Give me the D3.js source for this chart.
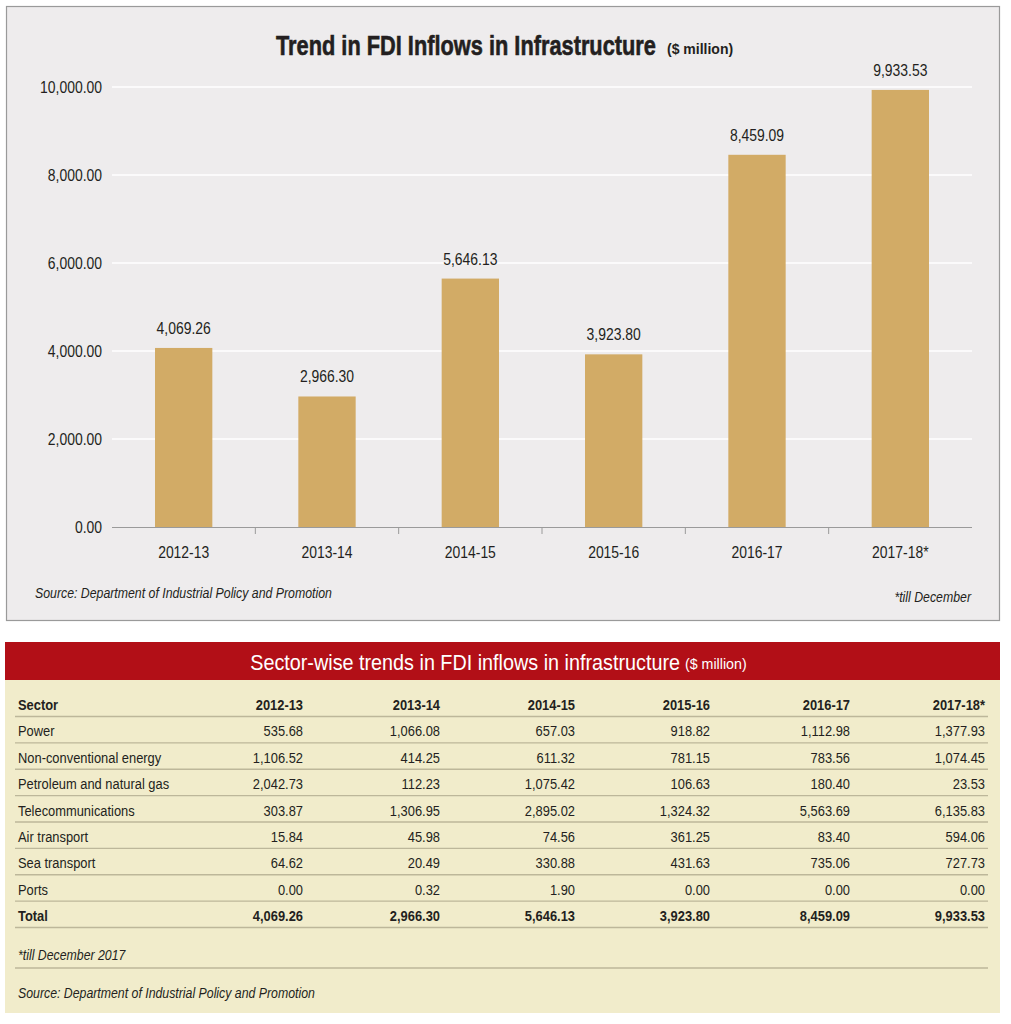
<!DOCTYPE html>
<html>
<head>
<meta charset="utf-8">
<script src="https://cdn.jsdelivr.net/npm/d3@7"></script>
<style>
  body { margin: 0; background: #fff; }
  text { font-family: "Liberation Sans", Arial, sans-serif; }
</style>
</head>
<body>
<svg width="1011" height="1024"></svg>
<script>
// chart data
var years = ["2012-13", "2013-14", "2014-15", "2015-16", "2016-17", "2017-18*"];
var totals = [4069.26, 2966.30, 5646.13, 3923.80, 8459.09, 9933.53];
var yTicks = [0, 2000, 4000, 6000, 8000, 10000];

// table data
var sectors = ["Power", "Non-conventional energy", "Petroleum and natural gas",
  "Telecommunications", "Air transport", "Sea transport", "Ports"];
var power = [535.68, 1066.08, 657.03, 918.82, 1112.98, 1377.93];
var nonConv = [1106.52, 414.25, 611.32, 781.15, 783.56, 1074.45];
var petroleum = [2042.73, 112.23, 1075.42, 106.63, 180.40, 23.53];
var telecom = [303.87, 1306.95, 2895.02, 1324.32, 5563.69, 6135.83];
var air = [15.84, 45.98, 74.56, 361.25, 83.40, 594.06];
var sea = [64.62, 20.49, 330.88, 431.63, 735.06, 727.73];
var ports = [0.00, 0.32, 1.90, 0.00, 0.00, 0.00];
var tableYears = ["2012-13", "2013-14", "2014-15", "2015-16", "2016-17", "2017-18*"];

var svg = d3.select("svg");
var fmt = d3.format(",.2f");
var ink = "#231f20";

// no narrow font installed, so squeeze text horizontally
function squeeze(sel, fx, fy, sx) {
  return sel.attr("transform", function(d, i){
    return "translate(" + fx(d, i) + "," + fy(d, i) + ") scale(" + sx + ",1)";
  });
}
function k(v){ return function(){ return v; }; }

// ---- top panel ----
svg.append("rect")
  .attr("x", 6.5).attr("y", 6.5).attr("width", 993).attr("height", 614)
  .style("fill", "#eeeced").style("stroke", "#9a9a9a").style("stroke-width", 1.2);

var title = svg.append("text")
  .style("font-size", "28px").style("font-weight", "bold").style("fill", ink)
  .style("stroke", ink).style("stroke-width", 0.6)
  .text("Trend in FDI Inflows in Infrastructure");
var tLen = title.node().getComputedTextLength();
title.call(squeeze, k(276), k(55), 380 / tLen);
svg.append("text")
  .attr("x", 667).attr("y", 54)
  .style("font-size", "14px").style("font-weight", "bold").style("fill", ink)
  .text("($ million)");

var x = d3.scaleBand().domain(years).range([112, 972]).padding(0);
var y = d3.scaleLinear().domain([0, 10000]).range([527, 87]);

// grid lines
svg.selectAll(".grid")
  .data(yTicks.filter(function(d){ return d > 0; }))
  .enter().append("line")
  .attr("x1", 112).attr("x2", 972)
  .attr("y1", function(d){ return y(d); })
  .attr("y2", function(d){ return y(d); })
  .style("stroke", "#ffffff").style("stroke-width", 1.3);

// y axis labels
svg.selectAll(".ylab")
  .data(yTicks)
  .enter().append("text")
  .call(squeeze, k(102), function(d){ return y(d) + 6; }, 0.87)
  .attr("text-anchor", "end")
  .style("font-size", "16px").style("fill", ink)
  .text(function(d){ return fmt(d); });

// bars
var bw = x.bandwidth() * 0.4;
svg.selectAll(".bar")
  .data(totals)
  .enter().append("rect")
  .attr("x", function(d, i){ return x(years[i]) + (x.bandwidth() - bw) / 2; })
  .attr("width", bw)
  .attr("y", function(d){ return y(d); })
  .attr("height", function(d){ return y(0) - y(d); })
  .style("fill", "#d2ab66");

svg.selectAll(".val")
  .data(totals)
  .enter().append("text")
  .call(squeeze, function(d, i){ return x(years[i]) + x.bandwidth() / 2; },
        function(d){ return y(d) - 14; }, 0.87)
  .attr("text-anchor", "middle")
  .style("font-size", "16px").style("fill", ink)
  .text(function(d){ return fmt(d); });

// x axis
svg.append("line")
  .attr("x1", 112).attr("x2", 972).attr("y1", 527.5).attr("y2", 527.5)
  .style("stroke", "#9a9a9a").style("stroke-width", 1.2);
svg.selectAll(".xtick")
  .data(years.slice(1))
  .enter().append("line")
  .attr("x1", function(d){ return x(d); })
  .attr("x2", function(d){ return x(d); })
  .attr("y1", 527).attr("y2", 534)
  .style("stroke", "#9a9a9a");
svg.selectAll(".xlab")
  .data(years)
  .enter().append("text")
  .call(squeeze, function(d){ return x(d) + x.bandwidth() / 2; }, k(558), 0.87)
  .attr("text-anchor", "middle")
  .style("font-size", "16px").style("fill", ink)
  .text(function(d){ return d; });

svg.append("text")
  .call(squeeze, k(35), k(598), 0.88)
  .style("font-size", "14px").style("font-style", "italic").style("fill", ink)
  .text("Source: Department of Industrial Policy and Promotion");
svg.append("text")
  .call(squeeze, k(971), k(602), 0.88)
  .attr("text-anchor", "end")
  .style("font-size", "14px").style("font-style", "italic").style("fill", ink)
  .text("*till December");

// ---- table ----
svg.append("rect")
  .attr("x", 5).attr("y", 642).attr("width", 995).attr("height", 38)
  .style("fill", "#b20f17");
svg.append("rect")
  .attr("x", 5).attr("y", 680).attr("width", 995).attr("height", 333)
  .style("fill", "#f1eccb");

svg.append("text")
  .call(squeeze, k(680), k(670), 0.9)
  .attr("text-anchor", "end")
  .style("font-size", "22px").style("fill", "#ffffff")
  .text("Sector-wise trends in FDI inflows in infrastructure");
svg.append("text")
  .call(squeeze, k(685), k(669), 0.95)
  .style("font-size", "15px").style("fill", "#ffffff")
  .text("($ million)");

var rows = [power, nonConv, petroleum, telecom, air, sea, ports];
var colX = [303, 440, 575, 710, 850, 985];
var rowY = d3.scaleLinear().domain([0, 8]).range([710, 921]);
var ruleColor = "#bdb79a";
var tsx = 0.86;

// header
svg.append("text")
  .call(squeeze, k(18), k(rowY(0)), tsx)
  .style("font-size", "15px").style("font-weight", "bold").style("fill", ink)
  .text("Sector");
svg.selectAll(".hdr")
  .data(tableYears)
  .enter().append("text")
  .call(squeeze, function(d, i){ return colX[i]; }, k(rowY(0)), tsx)
  .attr("text-anchor", "end")
  .style("font-size", "15px").style("font-weight", "bold").style("fill", ink)
  .text(function(d){ return d; });

// body rows
var rg = svg.selectAll(".row")
  .data(rows)
  .enter().append("g");
rg.append("text")
  .call(squeeze, k(18), function(d, i){ return rowY(i + 1); }, tsx)
  .style("font-size", "15px").style("fill", ink)
  .text(function(d, i){ return sectors[i]; });
rg.each(function(r, i){
  d3.select(this).selectAll(".cell")
    .data(r)
    .enter().append("text")
    .call(squeeze, function(d, j){ return colX[j]; }, k(rowY(i + 1)), tsx)
    .attr("text-anchor", "end")
    .style("font-size", "15px").style("fill", ink)
    .text(function(d){ return fmt(d); });
});

// total row
svg.append("text")
  .call(squeeze, k(18), k(rowY(8)), tsx)
  .style("font-size", "15px").style("font-weight", "bold").style("fill", ink)
  .text("Total");
svg.selectAll(".tot")
  .data(totals)
  .enter().append("text")
  .call(squeeze, function(d, i){ return colX[i]; }, k(rowY(8)), tsx)
  .attr("text-anchor", "end")
  .style("font-size", "15px").style("font-weight", "bold").style("fill", ink)
  .text(function(d){ return fmt(d); });

// rules
var rules = d3.range(9).map(function(i){ return rowY(i) + 6.5; });
rules.push(968);
svg.selectAll(".rule")
  .data(rules)
  .enter().append("line")
  .attr("x1", 15).attr("x2", 988)
  .attr("y1", function(d){ return d; })
  .attr("y2", function(d){ return d; })
  .style("stroke", ruleColor).style("stroke-width", 1.3);

svg.append("text")
  .call(squeeze, k(18), k(960), 0.88)
  .style("font-size", "14px").style("font-style", "italic").style("fill", ink)
  .text("*till December 2017");
svg.append("text")
  .call(squeeze, k(18), k(998), 0.88)
  .style("font-size", "14px").style("font-style", "italic").style("fill", ink)
  .text("Source: Department of Industrial Policy and Promotion");
</script>
</body>
</html>
